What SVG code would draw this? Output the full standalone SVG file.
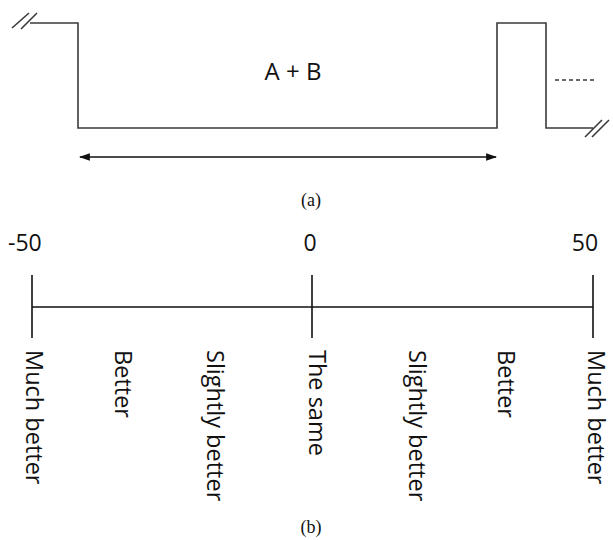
<svg xmlns="http://www.w3.org/2000/svg" width="613" height="540" viewBox="0 0 613 540">
<defs>
<style>
.wave{fill:none;stroke:#3a3a3a;stroke-width:1.6}
.ax{fill:none;stroke:#111;stroke-width:1.6}
.lbl{font-family:"Open Sans","DejaVu Sans",sans-serif;font-size:23.5px;fill:#111}
.num{font-family:"Open Sans","DejaVu Sans",sans-serif;font-size:23px;fill:#111}
.cap{font-family:"Liberation Serif","Times New Roman",serif;font-size:18px;fill:#111;text-anchor:middle}
</style>
<marker id="ah" viewBox="0 0 10 10" refX="9" refY="5" markerWidth="11" markerHeight="11" markerUnits="userSpaceOnUse" orient="auto-start-reverse">
<path d="M0,1.5 L10,5 L0,8.5 Z" fill="#111"/>
</marker>
</defs>
<g id="waveform">
<path class="wave" d="M30,23 H78 V128 H497 V23 H546 V128 H593"/>
<path class="wave" d="M12,28 L29,13 M21,29 L37,13"/>
<path class="wave" d="M585,137 L602,120 M592,137 L609,120"/>
<path class="wave" d="M555,80 H594" stroke-dasharray="4,3"/>
<text x="293" y="80" class="lbl" text-anchor="middle" style="font-size:24px">A + B</text>
</g>
<g id="connectors">
<line class="ax" x1="80" y1="157" x2="496" y2="157" marker-start="url(#ah)" marker-end="url(#ah)"/>
</g>
<text class="cap" x="311" y="206">(a)</text>
<g id="scale">
<line class="ax" x1="32" y1="307" x2="593" y2="307"/>
<line class="ax" x1="32" y1="275" x2="32" y2="338"/>
<line class="ax" x1="312" y1="275" x2="312" y2="338"/>
<line class="ax" x1="593" y1="275" x2="593" y2="338"/>
<text class="num" x="8" y="251">-50</text>
<text class="num" x="310" y="251" text-anchor="middle">0</text>
<text class="num" x="585" y="251" text-anchor="middle">50</text>
</g>
<g id="labels">
<text class="lbl" transform="translate(26,350) rotate(90)">Much better</text>
<text class="lbl" transform="translate(115,350) rotate(90)">Better</text>
<text class="lbl" transform="translate(207,350) rotate(90)">Slightly better</text>
<text class="lbl" transform="translate(309,350) rotate(90)">The same</text>
<text class="lbl" transform="translate(409,350) rotate(90)">Slightly better</text>
<text class="lbl" transform="translate(498,350) rotate(90)">Better</text>
<text class="lbl" transform="translate(588,350) rotate(90)">Much better</text>
</g>
<text class="cap" x="311" y="533">(b)</text>
</svg>
